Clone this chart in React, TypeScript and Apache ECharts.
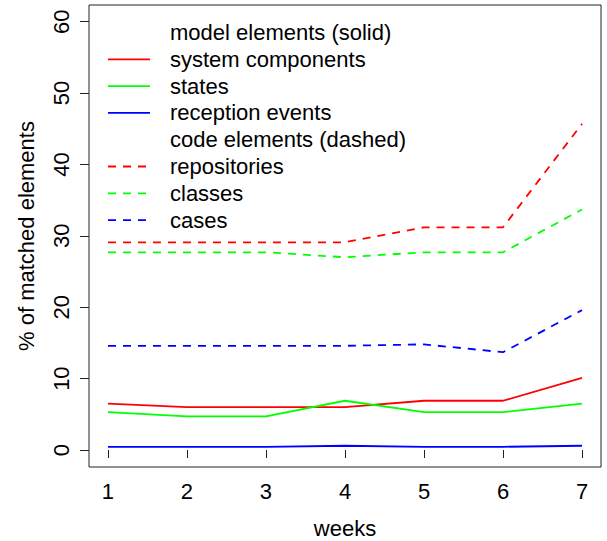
import React, { useEffect, useRef } from "react";
import * as echarts from "echarts";

const weeks = [1, 2, 3, 4, 5, 6, 7];
const yTicks = [0, 10, 20, 30, 40, 50, 60];

const systemComponents = [6.5, 6.0, 6.0, 6.0, 6.9, 6.9, 10.1];
const states = [5.3, 4.7, 4.7, 6.9, 5.3, 5.3, 6.5];
const receptionEvents = [0.45, 0.45, 0.45, 0.6, 0.45, 0.45, 0.6];
const repositories = [29.1, 29.1, 29.1, 29.1, 31.2, 31.2, 45.7];
const classes = [27.7, 27.7, 27.7, 27.0, 27.7, 27.7, 33.7];
const cases = [14.6, 14.6, 14.6, 14.6, 14.8, 13.7, 19.6];

const legendRows = [
  { label: "model elements (solid)", color: null, dashed: false },
  { label: "system components", color: "#ff0000", dashed: false },
  { label: "states", color: "#00ff00", dashed: false },
  { label: "reception events", color: "#0000ff", dashed: false },
  { label: "code elements (dashed)", color: null, dashed: true },
  { label: "repositories", color: "#ff0000", dashed: true },
  { label: "classes", color: "#00ff00", dashed: true },
  { label: "cases", color: "#0000ff", dashed: true },
];

const seriesDefs = [
  { name: "system components", values: systemComponents, color: "#ff0000", dashed: false },
  { name: "states", values: states, color: "#00ff00", dashed: false },
  { name: "reception events", values: receptionEvents, color: "#0000ff", dashed: false },
  { name: "repositories", values: repositories, color: "#ff0000", dashed: true },
  { name: "classes", values: classes, color: "#00ff00", dashed: true },
  { name: "cases", values: cases, color: "#0000ff", dashed: true },
];

const FONT = "'Liberation Sans', Arial, Helvetica, sans-serif";
const FS = 22;
const DASH = [8, 7];

export default function App() {
  const ref = useRef<HTMLDivElement>(null);
  useEffect(() => {
    if (!ref.current) return;
    const chart = echarts.init(ref.current, undefined, { renderer: "svg" });
    const graphics: any[] = [];
    legendRows.forEach((r, i) => {
      const y = 32.5 + i * 26.8;
      if (r.color) {
        graphics.push({
          type: "line",
          shape: { x1: 108, y1: y, x2: 150, y2: y },
          style: { stroke: r.color, lineWidth: 1.8, lineDash: r.dashed ? DASH : null },
          z: 10,
        });
      }
      graphics.push({
        type: "text",
        x: 170,
        y: y,
        style: {
          text: r.label,
          fontSize: FS,
          fontFamily: FONT,
          fill: "#000",
          verticalAlign: "middle",
        },
        z: 10,
      });
    });
    chart.setOption({
      animation: false,
      backgroundColor: "#ffffff",
      textStyle: { fontFamily: FONT },
      grid: {
        left: 89,
        right: 6,
        top: 5,
        bottom: 74,
        outerBoundsMode: "none",
        containLabel: false,
        show: true,
        borderColor: "#222",
        borderWidth: 1,
        backgroundColor: "transparent",
      },
      xAxis: {
        type: "value",
        min: 0.76,
        max: 7.24,
        name: "weeks",
        nameLocation: "middle",
        nameGap: 50,
        nameTextStyle: { fontSize: FS, color: "#000", fontFamily: FONT },
        axisLine: { show: false },
        axisTick: { show: true, length: 8, customValues: weeks, lineStyle: { color: "#222" } },
        axisLabel: {
          customValues: weeks,
          fontSize: FS,
          color: "#000",
          margin: 13,
          fontFamily: FONT,
        },
        splitLine: { show: false },
      },
      yAxis: {
        type: "value",
        min: -2.38,
        max: 62.34,
        name: "% of matched elements",
        nameLocation: "middle",
        nameRotate: 90,
        nameGap: 52,
        nameTextStyle: { fontSize: FS, color: "#000", fontFamily: FONT },
        axisLine: { show: false },
        axisTick: { show: true, length: 9, customValues: yTicks, lineStyle: { color: "#222" } },
        axisLabel: {
          customValues: yTicks,
          rotate: 90,
          fontSize: FS,
          color: "#000",
          margin: 17,
          fontFamily: FONT,
        },
        splitLine: { show: false },
      },
      series: seriesDefs.map((s) => ({
        name: s.name,
        type: "line",
        data: weeks.map((w, i) => [w, s.values[i]]),
        showSymbol: false,
        symbol: "none",
        lineStyle: { color: s.color, width: 1.8, type: s.dashed ? DASH : "solid" },
        itemStyle: { color: s.color },
      })),
      graphic: graphics,
    });
    return () => chart.dispose();
  }, []);
  return (
    <div
      ref={ref}
      style={{ position: "fixed", left: 0, top: 0, width: 607, height: 541, background: "#fff" }}
    />
  );
}
